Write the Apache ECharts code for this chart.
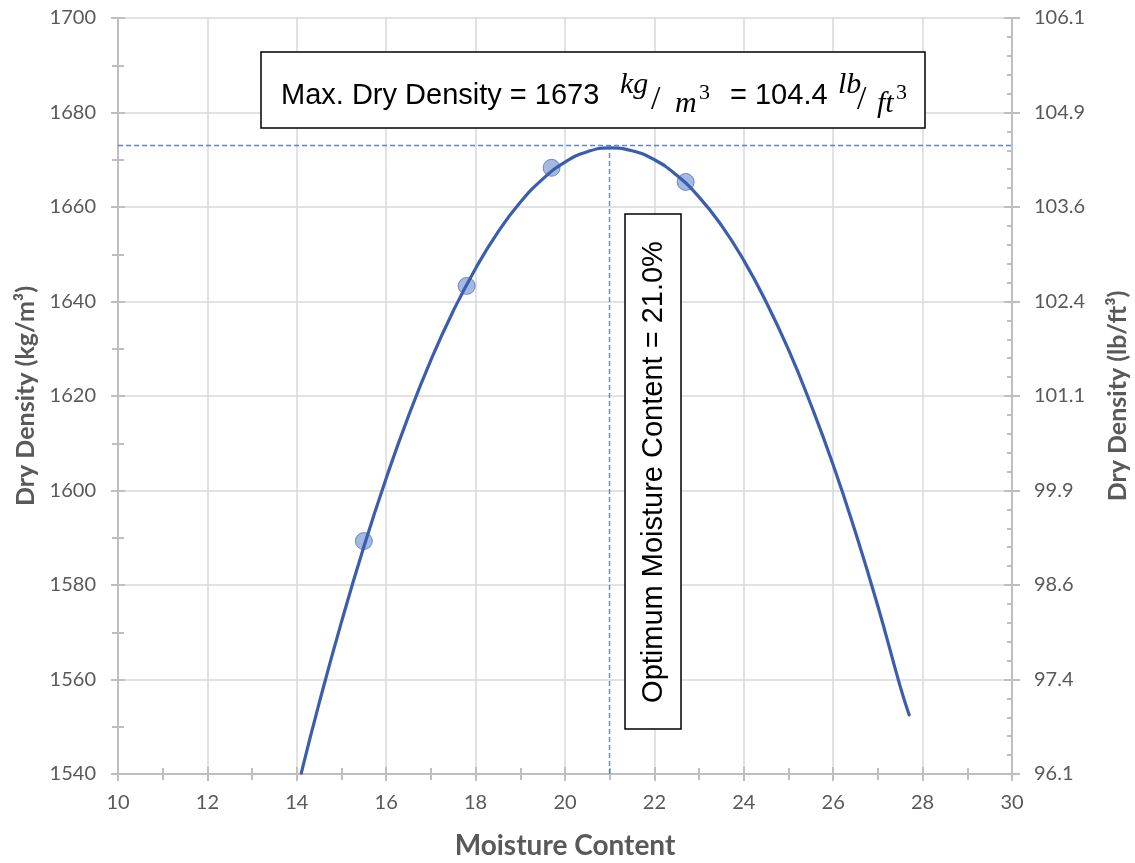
<!DOCTYPE html>
<html>
<head>
<meta charset="utf-8">
<script src="https://cdn.jsdelivr.net/npm/echarts@6/dist/echarts.min.js"></script>
<style>
html,body{margin:0;padding:0;background:#fff;}
#chart{width:1135px;height:863px;}
</style>
</head>
<body>
<div id="chart"></div>
<script>
// Measured points
const moisture = [15.5, 17.8, 19.7, 22.7];
const density = [1589.3, 1643.3, 1668.3, 1665.3];
// Trend curve
const curveX = [14.1, 14.5, 15, 15.5, 16, 16.5, 17, 17.5, 18, 18.5, 19, 19.5, 20, 20.5, 21, 21.5, 22, 22.5, 23, 23.5, 24, 24.5, 25, 25.5, 26, 26.5, 27, 27.5, 27.7];
const curveY = [1540.2, 1555, 1572.2, 1588.1, 1602.6, 1615.8, 1627.6, 1638, 1647, 1654.7, 1661, 1665.9, 1669.5, 1671.7, 1672.5, 1671.9, 1670, 1666.7, 1662.1, 1656.1, 1648.7, 1639.9, 1629.8, 1618.2, 1605.4, 1591.1, 1575.5, 1558.5, 1552.5];
const optMoisture = 21.0;
const maxDensity = 1673;
const maxDensityLb = 104.4;
const xRange = [10, 30];
const yRange = [1540, 1700];
const kgToLb = 0.062428;

const chart = echarts.init(document.getElementById('chart'), null, {renderer: 'canvas'});

const labelColor = '#595959';
const axisColor = '#bfbfbf';
const gridColor = '#d9d9d9';
const tickFont = {color: labelColor, fontFamily: 'Lato', fontSize: 20};

function pts(xs, ys) { return xs.map((x, i) => [x, ys[i]]); }

const option = {
  animation: false,
  backgroundColor: '#fff',
  grid: {left: 118, right: 123, top: 18, bottom: 89, containLabel: false, outerBoundsMode: 'none'},
  xAxis: [
    {
      type: 'value', min: xRange[0], max: xRange[1], interval: 2,
      name: 'Moisture Content', nameLocation: 'middle', nameGap: 58,
      nameTextStyle: {color: labelColor, fontFamily: 'Lato', fontWeight: 'bold', fontSize: 28},
      axisLine: {show: true, onZero: false, lineStyle: {color: axisColor, width: 2}},
      axisTick: {show: true, inside: false, length: 7, lineStyle: {color: axisColor, width: 2}},
      minorTick: {show: true, splitNumber: 2, length: 6, lineStyle: {color: axisColor, width: 2}},
      axisLabel: Object.assign({margin: 19, formatter: v => String(v)}, tickFont),
      splitLine: {show: true, lineStyle: {color: gridColor, width: 1.5}}
    },
    {
      type: 'value', min: xRange[0], max: xRange[1], interval: 2, position: 'bottom',
      axisLine: {show: false},
      axisTick: {show: true, inside: true, length: 7, lineStyle: {color: axisColor, width: 2}},
      minorTick: {show: true, splitNumber: 2, length: 6, lineStyle: {color: axisColor, width: 2}},
      axisLabel: {show: false}, splitLine: {show: false}
    }
  ],
  yAxis: [
    {
      type: 'value', min: yRange[0], max: yRange[1], interval: 20, position: 'left',
      name: 'Dry Density (kg/m³)', nameLocation: 'middle', nameGap: 79, nameRotate: 90,
      nameTextStyle: {color: labelColor, fontFamily: 'Lato', fontWeight: 'bold', fontSize: 25},
      axisLine: {show: true, lineStyle: {color: axisColor, width: 2}},
      axisTick: {show: true, inside: false, length: 7, lineStyle: {color: axisColor, width: 2}},
      minorTick: {show: true, splitNumber: 2, length: 6, lineStyle: {color: axisColor, width: 2}},
      axisLabel: Object.assign({margin: 22, formatter: v => String(v)}, tickFont),
      splitLine: {show: true, lineStyle: {color: gridColor, width: 1.5}}
    },
    {
      type: 'value', min: yRange[0], max: yRange[1], interval: 20, position: 'right',
      name: 'Dry Density (lb/ft³)', nameLocation: 'middle', nameGap: 93, nameRotate: 90,
      nameTextStyle: {color: labelColor, fontFamily: 'Lato', fontWeight: 'bold', fontSize: 25},
      axisLine: {show: true, lineStyle: {color: axisColor, width: 2}},
      axisTick: {show: true, inside: false, length: 8, lineStyle: {color: axisColor, width: 2}},
      minorTick: {show: false},
      axisLabel: Object.assign({margin: 22, formatter: v => (v * kgToLb).toFixed(1)}, tickFont),
      splitLine: {show: false}
    },
    {
      type: 'value', min: yRange[0], max: yRange[1], interval: 20, position: 'left',
      axisLine: {show: false},
      axisTick: {show: true, inside: true, length: 7, lineStyle: {color: axisColor, width: 2}},
      minorTick: {show: true, splitNumber: 2, length: 6, lineStyle: {color: axisColor, width: 2}},
      axisLabel: {show: false}, splitLine: {show: false}
    },
    {
      type: 'value', min: yRange[0], max: yRange[1], interval: 20, position: 'right',
      axisLine: {show: false},
      axisTick: {show: true, inside: true, length: 8, lineStyle: {color: axisColor, width: 2}},
      minorTick: {show: true, splitNumber: 5, length: 5, lineStyle: {color: axisColor, width: 2}},
      axisLabel: {show: false}, splitLine: {show: false}
    }
  ],
  series: [
    {
      type: 'scatter', name: 'Measured', xAxisIndex: 0, yAxisIndex: 0, z: 2,
      data: pts(moisture, density),
      symbol: 'circle', symbolSize: 17,
      itemStyle: {color: 'rgba(68,114,196,0.62)', borderColor: 'rgba(47,85,160,0.75)', borderWidth: 1}
    },
    {
      type: 'line', name: 'Trend', xAxisIndex: 0, yAxisIndex: 0, z: 3,
      data: pts(curveX, curveY), smooth: true, showSymbol: false, symbol: 'none',
      lineStyle: {color: '#3A5EAD', width: 3.2, cap: 'round'},
      markLine: {
        silent: true, symbol: 'none', label: {show: false},
        lineStyle: {color: '#4472C4', type: [5, 3], width: 1.4, opacity: 0.85},
        data: [
          [{coord: [xRange[0], maxDensity]}, {coord: [xRange[1], maxDensity]}],
          [{coord: [optMoisture, yRange[0]]}, {coord: [optMoisture, maxDensity]}]
        ]
      }
    }
  ],
  graphic: [
    {type: 'rect', shape: {x: 261, y: 52, width: 664, height: 76}, style: {fill: '#fff', stroke: '#000', lineWidth: 1.5}, z: 100},
    {type: 'text', x: 281, y: 96, z: 101, style: {text: 'Max. Dry Density = ' + maxDensity, font: '29px "Liberation Sans"', fill: '#000', verticalAlign: 'middle', align: 'left'}},
    {type: 'text', x: 620, y: 85, z: 101, style: {text: 'kg', font: 'italic 30px "Liberation Serif"', fill: '#000', verticalAlign: 'middle'}},
    {type: 'text', x: 651, y: 100, z: 101, style: {text: '/', font: '34px "Liberation Serif"', fill: '#000', verticalAlign: 'middle'}},
    {type: 'text', x: 675, y: 104, z: 101, style: {text: 'm', font: 'italic 30px "Liberation Serif"', fill: '#000', verticalAlign: 'middle'}},
    {type: 'text', x: 699, y: 93, z: 101, style: {text: '3', font: '22px "Liberation Serif"', fill: '#000', verticalAlign: 'middle'}},
    {type: 'text', x: 730, y: 96, z: 101, style: {text: '= ' + maxDensityLb.toFixed(1), font: '29px "Liberation Sans"', fill: '#000', verticalAlign: 'middle', align: 'left'}},
    {type: 'text', x: 838, y: 85, z: 101, style: {text: 'lb', font: 'italic 30px "Liberation Serif"', fill: '#000', verticalAlign: 'middle'}},
    {type: 'text', x: 857, y: 100, z: 101, style: {text: '/', font: '34px "Liberation Serif"', fill: '#000', verticalAlign: 'middle'}},
    {type: 'text', x: 877, y: 104, z: 101, style: {text: 'ft', font: 'italic 30px "Liberation Serif"', fill: '#000', verticalAlign: 'middle'}},
    {type: 'text', x: 896, y: 93, z: 101, style: {text: '3', font: '22px "Liberation Serif"', fill: '#000', verticalAlign: 'middle'}},
    {type: 'rect', shape: {x: 625, y: 214, width: 56, height: 515}, style: {fill: '#fff', stroke: '#000', lineWidth: 1.5}, z: 100},
    {type: 'text', x: 654, y: 472, rotation: Math.PI / 2, z: 101, style: {text: 'Optimum Moisture Content = ' + optMoisture.toFixed(1) + '%', font: '29px "Liberation Sans"', fill: '#000', verticalAlign: 'middle', align: 'center'}}
  ]
};
chart.setOption(option);
</script>
</body>
</html>
